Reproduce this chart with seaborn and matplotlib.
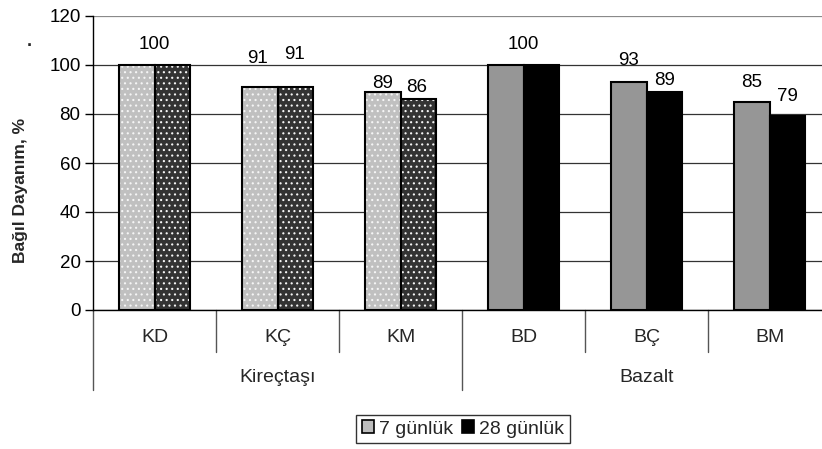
import matplotlib
matplotlib.use("Agg")
import matplotlib.pyplot as plt
from matplotlib.patches import Patch
import seaborn as sns
import pandas as pd

# Data
groups = ["Kireçtaşı", "Kireçtaşı", "Kireçtaşı", "Bazalt", "Bazalt", "Bazalt"]
categories = ["KD", "KÇ", "KM", "BD", "BÇ", "BM"]
series = ["7 günlük", "28 günlük"]
values_7 = [100, 91, 89, 100, 93, 85]
values_28 = [100, 91, 86, 100, 89, 79]
y_ticks = [0, 20, 40, 60, 80, 100, 120]
y_label = "Bağıl Dayanım, %"

# Label nudges in pixels (dx, dy above bar top), per series
label_dx = {series[0]: [18, -2, 0, 18, 0, 0], series[1]: [-18, -1, -2, -18, 0, 0]}
label_dy = {series[0]: [20, 29, 8, 20, 22, 19], series[1]: [20, 33, 12, 20, 11, 20]}

df = pd.DataFrame({
    "Kategori": categories * 2,
    "Seri": [series[0]] * len(categories) + [series[1]] * len(categories),
    "Değer": values_7 + values_28,
})

sns.set_theme(style="white")
plt.rcParams["font.family"] = ["Liberation Sans", "DejaVu Sans"]
plt.rcParams["hatch.linewidth"] = 0.8

W, H = 822, 449
fig = plt.figure(figsize=(W / 100, H / 100), dpi=100)
ax = fig.add_axes([93 / W, 1 - 310 / H, 738 / W, 294 / H])

bar_width = 0.578
sns.barplot(data=df, x="Kategori", y="Değer", hue="Seri", order=categories,
            hue_order=series, width=bar_width, errorbar=None, saturation=1,
            legend=False, ax=ax)

# Fill styles: limestone bars dotted, basalt bars plain
fills = {
    ("Kireçtaşı", 0): ("#c0c0c0", True),
    ("Kireçtaşı", 1): ("#333333", True),
    ("Bazalt", 0): ("#969696", False),
    ("Bazalt", 1): ("#000000", False),
}
for p in ax.patches:
    xc = p.get_x() + p.get_width() / 2
    ci = int(round(xc))
    si = 0 if xc < ci else 1
    color, dotted = fills[(groups[ci], si)]
    p.set_facecolor(color)
    p.set_edgecolor("black")
    p.set_linewidth(1.5)
    if dotted:
        p.set_hatch("...")
        try:
            p.set_hatchcolor("#f4f4f4")
        except AttributeError:
            p._hatch_color = (0.96, 0.96, 0.96, 1)

ax.set_xlim(-0.5, len(categories) - 0.5)
ax.set_ylim(0, 120)

# Value labels (a label that lands on an identical one is drawn once)
drawn = []
for si, (s, vals) in enumerate(zip(series, [values_7, values_28])):
    for ci, v in enumerate(vals):
        xc = ci + (si - 0.5) * bar_width / 2
        px, py = ax.transData.transform((xc, v))
        lx, ly = px + label_dx[s][ci], py + label_dy[s][ci]
        if any(t == str(v) and abs(lx - x0) < 3 and abs(ly - y0) < 3
               for t, x0, y0 in drawn):
            continue
        drawn.append((str(v), lx, ly))
        ax.annotate(str(v), xy=(xc, v), xytext=(label_dx[s][ci], label_dy[s][ci]),
                    textcoords="offset pixels", ha="center", va="center",
                    fontsize=13.5, color="black")

ax.set_yticks(y_ticks)
ax.set_yticklabels([str(t) for t in y_ticks], fontsize=13.5)
ax.set_xticks([])
ax.set_xlabel("")
ax.set_ylabel("")

ax.set_axisbelow(True)
ax.yaxis.grid(True, color="#333333", linewidth=0.9)
ax.get_ygridlines()[-1].set_color("#8a8a8a")
ax.tick_params(axis="y", direction="out", length=6, width=1, color="black",
               left=True, pad=3, labelcolor="black")

for side in ["top", "right"]:
    ax.spines[side].set_visible(False)
for side in ["left", "bottom"]:
    ax.spines[side].set_color("black")
    ax.spines[side].set_linewidth(1.0)

# Two-level category axis
trans = ax.get_xaxis_transform()
short_y = -42 / 294
long_y = -80 / 294
for i in range(len(categories) + 1):
    b = i - 0.5
    is_group_edge = i == 0 or i == len(categories) or groups[i] != groups[i - 1]
    ax.plot([b, b], [0, long_y if is_group_edge else short_y], transform=trans,
            color="#555555", linewidth=1.0, clip_on=False)
for i, c in enumerate(categories):
    ax.text(i, -28 / 294, c, transform=trans, ha="center", va="center", fontsize=14)
seen = []
for g in groups:
    if g not in seen:
        seen.append(g)
for g in seen:
    idx = [i for i, gg in enumerate(groups) if gg == g]
    ax.text(sum(idx) / len(idx), -68 / 294, g, transform=trans, ha="center",
            va="center", fontsize=14)

# Axis title
fig.text(21 / W, 1 - 190 / H, y_label, rotation=90, ha="center", va="center",
         fontsize=12.5, fontweight="bold")
fig.text(29 / W, 1 - 42 / H, ".", ha="center", va="center", fontsize=13,
         fontweight="bold")

# Legend
handles = [Patch(facecolor="#bdbdbd", edgecolor="black", linewidth=1.2),
           Patch(facecolor="black", edgecolor="black", linewidth=1.2)]
leg = fig.legend(handles, series, loc="center", bbox_to_anchor=(463 / W, 1 - 429 / H),
                 ncol=2, frameon=True, fancybox=False, fontsize=14,
                 handlelength=0.6, handleheight=0.6, handletextpad=0.25,
                 columnspacing=0.5, borderpad=0.3, borderaxespad=0)
leg.get_frame().set_edgecolor("black")
leg.get_frame().set_linewidth(1.0)

fig.savefig("out.png", dpi=100)
